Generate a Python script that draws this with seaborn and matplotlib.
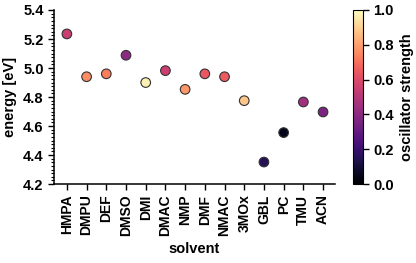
import matplotlib
matplotlib.use("Agg")
import matplotlib.pyplot as plt
import matplotlib.ticker as mticker
import seaborn as sns
import pandas as pd

solvents = ["HMPA", "DMPU", "DEF", "DMSO", "DMI", "DMAC", "NMP", "DMF",
            "NMAC", "3MOx", "GBL", "PC", "TMU", "ACN"]
energy = [5.235, 4.94, 4.96, 5.088, 4.90, 4.982, 4.853, 4.96,
          4.94, 4.775, 4.352, 4.555, 4.766, 4.697]
strength = [0.55, 0.76, 0.73, 0.40, 0.97, 0.55, 0.78, 0.64,
            0.65, 0.88, 0.15, 0.05, 0.45, 0.36]

df = pd.DataFrame({"solvent": solvents, "energy": energy, "strength": strength})

sns.set_style("ticks")
plt.rcParams["font.family"] = ["Liberation Sans", "DejaVu Sans"]
plt.rcParams["font.weight"] = "bold"
plt.rcParams["axes.labelweight"] = "bold"
for key in ["text.color", "axes.labelcolor", "xtick.color", "ytick.color", "axes.edgecolor"]:
    plt.rcParams[key] = "black"

fig = plt.figure(figsize=(4.16, 2.63), dpi=100)
ax = fig.add_axes([0.130, 0.30, 0.675, 0.662])
cax = fig.add_axes([0.849, 0.30, 0.024, 0.662])

cmap = plt.get_cmap("magma")
norm = plt.Normalize(0, 1)
sns.scatterplot(data=df, x="solvent", y="energy", hue="strength",
                palette="magma", hue_norm=norm, s=48, edgecolor="#333333",
                linewidth=0.8, legend=False, ax=ax, zorder=3)

ax.set_ylim(4.2, 5.4)
ax.set_xlim(-0.65, 13.6)
ax.yaxis.set_major_locator(mticker.MultipleLocator(0.2))
ax.yaxis.set_minor_locator(mticker.MultipleLocator(0.025))
ax.yaxis.set_major_formatter(mticker.FormatStrFormatter("%.1f"))
ax.set_xlabel("solvent", fontsize=10.5, fontweight="bold")
ax.set_ylabel("energy [eV]", fontsize=10.5, fontweight="bold")
ax.tick_params(axis="x", rotation=90, labelsize=10, width=1, length=4)
ax.tick_params(axis="y", labelsize=10.5, width=1, length=4)
ax.tick_params(axis="y", which="minor", width=0.8, length=2)
for lbl in ax.get_xticklabels() + ax.get_yticklabels():
    lbl.set_fontweight("bold")
sns.despine(ax=ax)
for sp in ["left", "bottom"]:
    ax.spines[sp].set_linewidth(1.1)

sm = plt.cm.ScalarMappable(cmap=cmap, norm=norm)
cb = fig.colorbar(sm, cax=cax)
cb.set_label("oscillator strength", fontsize=10.5, fontweight="bold")
cb.outline.set_linewidth(0.8)
cb.ax.tick_params(labelsize=10.5, width=1, length=4)
for lbl in cb.ax.get_yticklabels():
    lbl.set_fontweight("bold")

fig.savefig("out.png", dpi=100)
